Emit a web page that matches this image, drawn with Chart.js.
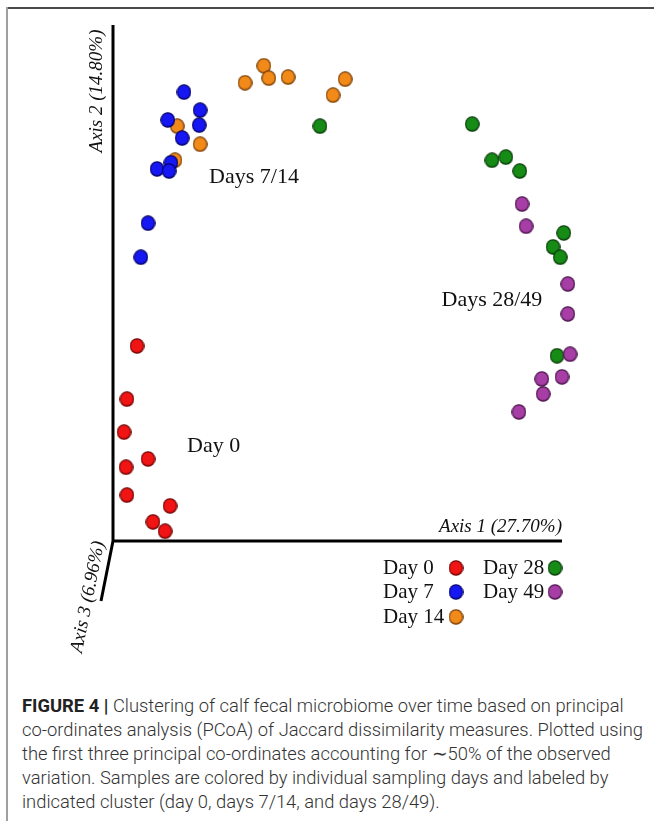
<!DOCTYPE html>
<html><head><meta charset="utf-8">
<script src="https://cdn.jsdelivr.net/npm/chart.js@4.4.0/dist/chart.umd.min.js"></script>
<style>
html,body{margin:0;padding:0;background:#fff;width:654px;height:821px;overflow:hidden;}
#wrap{position:absolute;left:0;top:0;width:654px;height:680px;}
#frameTop{position:absolute;left:6px;top:7px;width:648px;height:2px;background:#4a4a4a;}
#frameLeft{position:absolute;left:6px;top:7px;width:2px;height:814px;background:#a0a0a0;}
#caption{position:absolute;left:22px;top:694px;font-family:Roboto,"Liberation Sans",Arial,sans-serif;font-weight:300;font-size:18.5px;line-height:24px;color:#333;white-space:nowrap;transform-origin:0 0;}
#caption b{color:#222;font-weight:700;}
</style></head>
<body>
<div id="frameTop"></div><div id="frameLeft"></div>
<div id="wrap"><canvas id="c" width="654" height="680"></canvas></div>
<div id="caption"><b>FIGURE 4 |</b> Clustering of calf fecal microbiome over time based on principal<br><span id="l2">co-ordinates analysis (PCoA) of Jaccard dissimilarity measures. Plotted using</span><br>the first three principal co-ordinates accounting for ∼50% of the observed<br>variation. Samples are colored by individual sampling days and labeled by<br>indicated cluster (day 0, days 7/14, and days 28/49).</div>
<script>
// Series values (Axis 1, Axis 2 in arbitrary PCoA units)
const seriesLabels = ["Day 0", "Day 7", "Day 14", "Day 28", "Day 49"];
const day0X  = [5.35, 3.1, 2.45, 7.8, 2.9, 3.1, 12.7, 8.9, 11.6];
const day0Y  = [37.8, 27.5, 21.1, 15.9, 14.3, 8.9, 6.8, 3.7, 1.9];
const day7X  = [15.8, 19.4, 12.2, 19.2, 15.4, 12.9, 9.8, 12.5, 7.8, 6.2];
const day7Y  = [87.0, 83.5, 81.6, 80.6, 78.1, 73.3, 72.1, 71.7, 61.6, 55.0];
const day14X = [29.4, 33.6, 34.7, 39.0, 51.7, 49.0, 14.3, 19.4, 13.8];
const day14Y = [88.8, 92.1, 89.7, 89.9, 89.5, 86.4, 80.4, 76.9, 73.8];
const day28X = [46.1, 80.0, 84.4, 87.5, 90.6, 100.4, 98.0, 99.6, 98.9];
const day28Y = [80.4, 80.8, 73.8, 74.4, 71.7, 59.7, 57.0, 55.0, 35.9];
const day49X = [91.1, 92.0, 101.3, 101.3, 102.9, 101.8, 95.5, 100.0, 95.8, 90.4];
const day49Y = [65.3, 61.0, 49.8, 44.0, 42.6, 36.2, 31.4, 31.8, 28.5, 25.0];
const clusterLabels = ["Days 7/14", "Day 0", "Days 28/49"];
const clusterX = [31.4, 22.4, 84.4];
const clusterY = [70.5, 18.4, 46.7];
const axisTitles = ["Axis 1 (27.70%)", "Axis 2 (14.80%)", "Axis 3 (6.96%)"];

const colors = ["#f01414", "#1717f4", "#f28a1a", "#168c16", "#a63ea6"];
const edges  = ["#6e0000", "#000064", "#7a3c00", "#073807", "#481048"];
const drawOrder = [0, 1, 3, 4, 2];

function sphere(fill, edge, w, h) {
  const c = document.createElement("canvas");
  c.width = w; c.height = h;
  const g = c.getContext("2d");
  const rx = w / 2, ry = h / 2;
  const grad = g.createRadialGradient(rx * 0.85, ry * 0.8, 0, rx, ry, Math.max(rx, ry));
  grad.addColorStop(0, fill);
  grad.addColorStop(0.7, fill);
  grad.addColorStop(1, edge);
  g.beginPath(); g.ellipse(rx, ry, rx - 0.7, ry - 0.7, 0, 0, Math.PI * 2);
  g.fillStyle = grad; g.fill();
  g.lineWidth = 1.1; g.strokeStyle = edge; g.stroke();
  return c;
}
const sprites = colors.map((c, i) => sphere(c, edges[i], 15, 16));

function pts(xs, ys) { return xs.map((x, i) => ({x: x, y: ys[i]})); }
const xsAll = [day0X, day7X, day14X, day28X, day49X];
const ysAll = [day0Y, day7Y, day14Y, day28Y, day49Y];

const datasets = seriesLabels.map((lab, i) => ({
  label: lab,
  data: pts(xsAll[i], ysAll[i]),
  pointStyle: sprites[i],
  pointRadius: 8,
  backgroundColor: colors[i],
  borderColor: edges[i],
  order: drawOrder[i],
  clip: false
}));

const decor = {
  id: "decor",
  beforeDatasetsDraw(chart) {
    const ctx = chart.ctx, xs = chart.scales.x, ys = chart.scales.y;
    const ox = xs.getPixelForValue(0), oy = ys.getPixelForValue(0);
    ctx.save();
    ctx.strokeStyle = "#000"; ctx.lineWidth = 3; ctx.lineCap = "butt";
    ctx.beginPath();
    ctx.moveTo(ox, ys.getPixelForValue(100)); ctx.lineTo(ox, oy + 1.5);
    ctx.moveTo(ox - 1.5, oy); ctx.lineTo(xs.getPixelForValue(100), oy);
    ctx.moveTo(ox, oy); ctx.lineTo(ox - 12, oy + 60);
    ctx.stroke();
    ctx.restore();
  },
  afterDraw(chart) {
    const ctx = chart.ctx, xs = chart.scales.x, ys = chart.scales.y;
    const ox = xs.getPixelForValue(0), oy = ys.getPixelForValue(0);
    ctx.save();
    ctx.fillStyle = "#111";
    // axis titles
    ctx.font = "italic 19px 'Liberation Serif', 'Times New Roman', serif";
    ctx.textAlign = "right"; ctx.textBaseline = "alphabetic";
    ctx.fillText(axisTitles[0], xs.getPixelForValue(100), oy - 9);
    ctx.save();
    ctx.translate(ox - 11, (ys.getPixelForValue(100) + 157) / 2);
    ctx.rotate(-Math.PI / 2);
    ctx.textAlign = "center";
    ctx.fillText(axisTitles[1], 0, 0);
    ctx.restore();
    ctx.save();
    ctx.translate(ox - 20, oy + 57);
    ctx.rotate(Math.atan2(-124, 25));
    ctx.textAlign = "center";
    ctx.fillText(axisTitles[2], 0, 0);
    ctx.restore();
    // cluster labels
    ctx.font = "22px 'Liberation Serif', 'Times New Roman', serif";
    ctx.textAlign = "center"; ctx.textBaseline = "middle";
    clusterLabels.forEach((t, i) => {
      ctx.fillText(t, xs.getPixelForValue(clusterX[i]), ys.getPixelForValue(clusterY[i]));
    });
    // legend
    ctx.font = "21px 'Liberation Serif', 'Times New Roman', serif";
    const right = xs.getPixelForValue(100);
    const rowY = [oy + 27, oy + 51, oy + 76];
    const cols = [[0, 1, 2], [3, 4]];
    const textX = [right - 179, right - 79];
    const dotX = [right - 106, right - 7];
    ctx.textAlign = "left";
    cols.forEach((col, ci) => {
      col.forEach((si, ri) => {
        ctx.fillStyle = "#111";
        ctx.fillText(seriesLabels[si], textX[ci], rowY[ri]);
        ctx.drawImage(sprites[si], dotX[ci] - 7.5, rowY[ri] - 8, 15, 16);
      });
    });
    ctx.restore();
  }
};

new Chart(document.getElementById("c"), {
  type: "scatter",
  data: { datasets: datasets },
  options: {
    responsive: false,
    animation: false,
    layout: { padding: { left: 113, right: 92, top: 25, bottom: 139 } },
    scales: {
      x: { type: "linear", min: 0, max: 100, display: false },
      y: { type: "linear", min: 0, max: 100, display: false }
    },
    plugins: { legend: { display: false }, tooltip: { enabled: false } }
  },
  plugins: [decor]
});

// fit caption width to the reference (line 2 spans ~621px)
(function fitCaption() {
  const cap = document.getElementById("caption");
  const w = document.getElementById("l2").getBoundingClientRect().width;
  if (w > 0) cap.style.transform = "scaleX(" + (621 / w) + ")";
})();
</script>
</body></html>
